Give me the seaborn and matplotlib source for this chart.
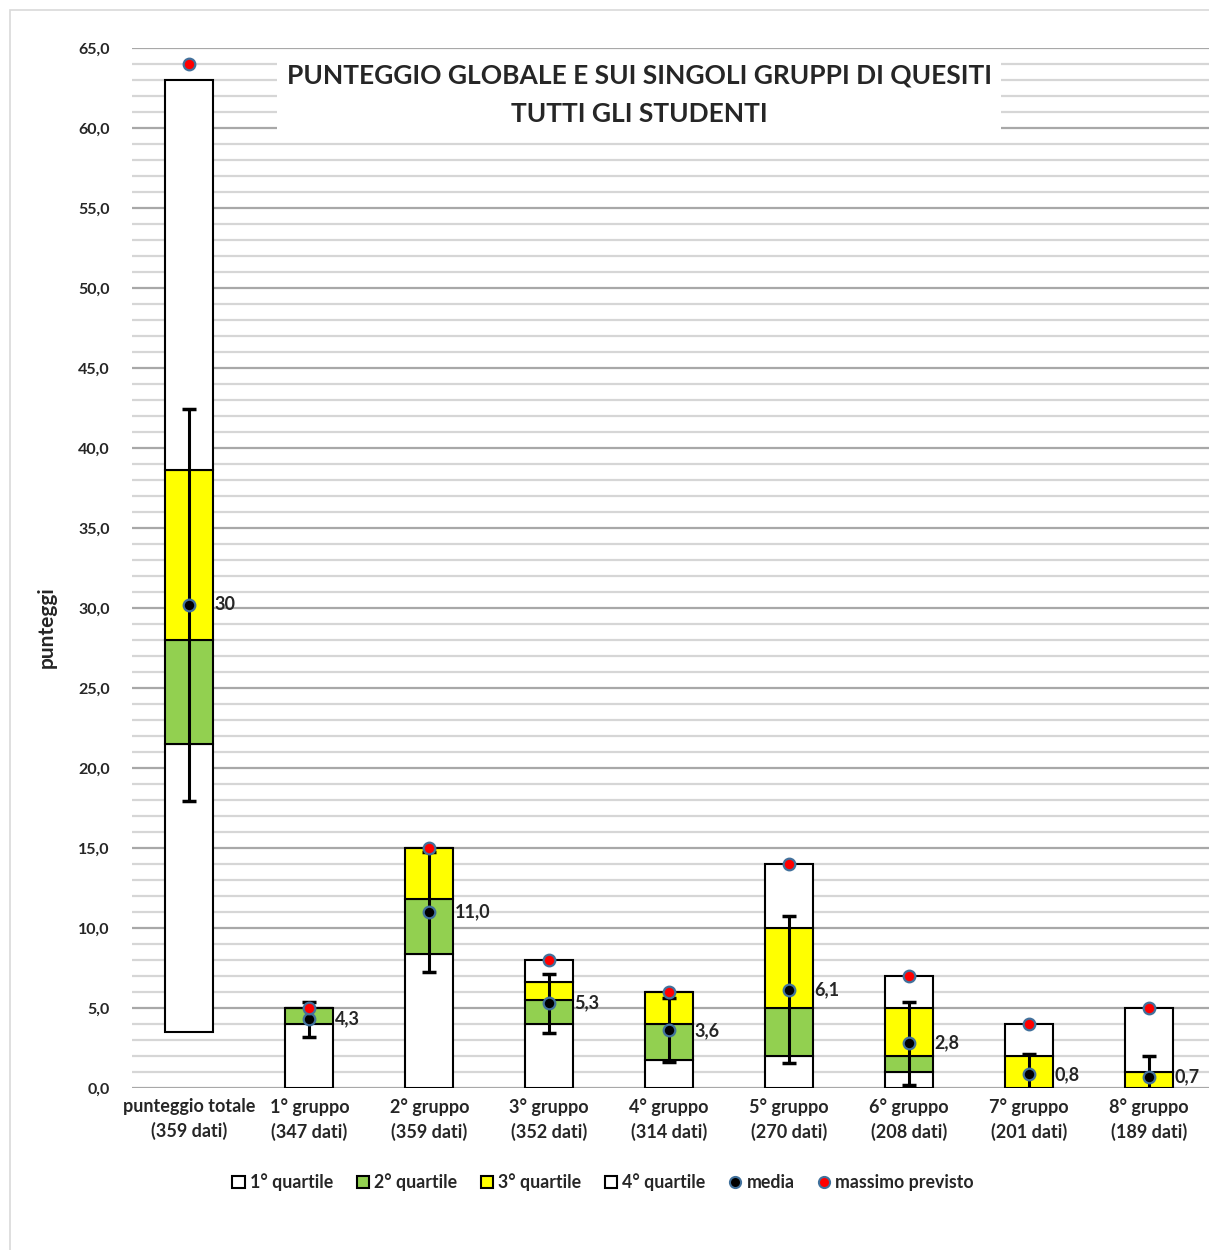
import matplotlib
matplotlib.use("Agg")
import matplotlib.pyplot as plt
from matplotlib.lines import Line2D
from matplotlib.patches import Patch, Rectangle
from matplotlib.ticker import MultipleLocator, FuncFormatter
import numpy as np
import pandas as pd
import seaborn as sns

# -- Data ----------------------------------------------------------------------

gruppi = [
    "punteggio totale\n(359 dati)", "1° gruppo\n(347 dati)", "2° gruppo\n(359 dati)",
    "3° gruppo\n(352 dati)", "4° gruppo\n(314 dati)", "5° gruppo\n(270 dati)",
    "6° gruppo\n(208 dati)", "7° gruppo\n(201 dati)", "8° gruppo\n(189 dati)",
]
minimo           = [3.5, 0.0, 0.0, 0.0, 0.0, 0.0, 0.0, 0.0, 0.0]
primo_quartile   = [21.5, 4.0, 8.4, 4.0, 1.75, 2.0, 1.0, 0.0, 0.0]
mediana          = [28.0, 5.0, 11.8, 5.5, 4.0, 5.0, 2.0, 0.0, 0.0]
terzo_quartile   = [38.6, 5.0, 15.0, 6.6, 6.0, 10.0, 5.0, 2.0, 1.0]
massimo          = [63.0, 5.0, 15.0, 8.0, 6.0, 14.0, 7.0, 4.0, 5.0]
media            = [30.2, 4.3, 11.0, 5.3, 3.6, 6.15, 2.8, 0.85, 0.7]
dev_std          = [12.25, 1.1, 3.75, 1.85, 2.0, 4.6, 2.6, 1.25, 1.3]
massimo_previsto = [64, 5, 15, 8, 6, 14, 7, 4, 5]
etichette_media  = ["30", "4,3", "11,0", "5,3", "3,6", "6,1", "2,8", "0,8", "0,7"]

VERDE  = "#92D050"
GIALLO = "#FFFF00"
BLU    = "#41719C"

sns.set_theme(style="white")
plt.rcParams["font.family"] = ["Lato", "DejaVu Sans"]
plt.rcParams["font.weight"] = "bold"

df = pd.DataFrame({
    "gruppo": gruppi,
    "pos": np.arange(len(gruppi)),
    "minimo": minimo, "q1": primo_quartile, "q2": mediana,
    "q3": terzo_quartile, "max": massimo,
    "media": media, "std": dev_std, "previsto": massimo_previsto,
})

fig, ax = plt.subplots(figsize=(12.09, 12.5), dpi=100)
fig.subplots_adjust(left=0.109, right=1.0, top=0.9616, bottom=0.1296)

# light border around the chart area
fig.patches.append(Rectangle((0.008, -0.01), 1.1, 1.002, transform=fig.transFigure,
                             fill=False, edgecolor="#d9d9d9", lw=1.2, zorder=0))

# -- Stacked quartile boxes ----------------------------------------------------

segmenti = [("minimo", "q1", "white"), ("q1", "q2", VERDE),
            ("q2", "q3", GIALLO), ("q3", "max", "white")]
w = 0.4
for lo, hi, col in segmenti:
    ax.bar(df["pos"], df[hi] - df[lo], bottom=df[lo], width=w, color=col,
           edgecolor="black", linewidth=1.5, zorder=2)

ax.errorbar(df["pos"], df["media"], yerr=df["std"], fmt="none", ecolor="black",
            elinewidth=2.2, capsize=5, capthick=2.5, zorder=3)

sns.scatterplot(data=df, x="pos", y="media", ax=ax, color="black", s=70,
                edgecolor=BLU, linewidth=1.6, zorder=4, legend=False)
sns.scatterplot(data=df, x="pos", y="previsto", ax=ax, color="red", s=70,
                edgecolor=BLU, linewidth=1.6, zorder=4, legend=False)

for x, y, lab in zip(df["pos"], df["media"], etichette_media):
    ax.annotate(lab, (x + w / 2, y), xytext=(1, 0), textcoords="offset points",
                ha="left", va="center", fontsize=13, fontweight="bold", zorder=5)

# -- Axes ------------------------------------------------------------------------

ax.set_xlim(-0.48, 8.5)
ax.set_ylim(0, 65)
ax.yaxis.set_major_locator(MultipleLocator(5))
ax.yaxis.set_minor_locator(MultipleLocator(1))
ax.yaxis.set_major_formatter(FuncFormatter(lambda v, _: f"{v:.1f}".replace(".", ",")))
ax.grid(axis="y", which="major", color="#a8a8a8", lw=1.6, zorder=0)
ax.grid(axis="y", which="minor", color="#d6d6d6", lw=1.6, zorder=0)
ax.set_axisbelow(True)
for s in ax.spines.values():
    s.set_visible(False)

ax.set_xticks(df["pos"])
ax.set_xticklabels(gruppi, fontsize=13, fontweight="bold", linespacing=1.5)
ax.tick_params(axis="x", length=0, pad=7)
ax.tick_params(axis="y", which="both", length=0, pad=16, labelsize=11.5)
for t in ax.get_yticklabels():
    t.set_fontweight("bold")
ax.set_xlabel("")
ax.set_ylabel("punteggi", fontsize=15, fontweight="bold")
ax.yaxis.set_label_coords(-0.07, 0.443)

ax.text(0.471, 0.955, "PUNTEGGIO GLOBALE E SUI SINGOLI GRUPPI DI QUESITI\nTUTTI GLI STUDENTI",
        transform=ax.transAxes, ha="center", va="center", fontsize=19, fontweight="bold",
        linespacing=1.7, zorder=6,
        bbox=dict(facecolor="white", edgecolor="none", boxstyle="square,pad=0.35"))

# -- Legend ----------------------------------------------------------------------

handles = [
    Patch(facecolor="white", edgecolor="black", lw=1.5, label="1° quartile"),
    Patch(facecolor=VERDE, edgecolor="black", lw=1.5, label="2° quartile"),
    Patch(facecolor=GIALLO, edgecolor="black", lw=1.5, label="3° quartile"),
    Patch(facecolor="white", edgecolor="black", lw=1.5, label="4° quartile"),
    Line2D([], [], ls="none", marker="o", ms=8, mfc="black", mec=BLU, mew=1.5, label="media"),
    Line2D([], [], ls="none", marker="o", ms=8, mfc="red", mec=BLU, mew=1.5, label="massimo previsto"),
]
fig.legend(handles=handles, loc="center", bbox_to_anchor=(0.499, 0.054), ncol=6,
           frameon=False, fontsize=12.8, handlelength=0.7, handleheight=0.7,
           handletextpad=0.3, columnspacing=1.3)

fig.savefig("out.png", dpi=100)
